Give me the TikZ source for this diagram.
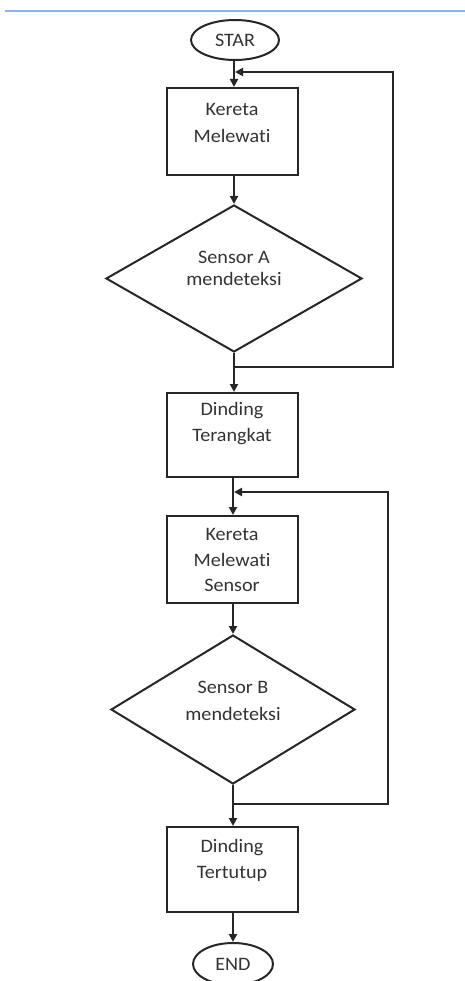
\documentclass[tikz,border=0pt]{standalone}
\usepackage{fontspec}
\setmainfont[Ligatures={NoCommon},FakeStretch=1.06]{Carlito}
\usetikzlibrary{shapes.geometric,arrows.meta}
\begin{document}
\begin{tikzpicture}[x=1pt,y=-1pt,
  ln/.style={line width=2pt, draw=black!85},
  arr/.style={ln,-{Triangle[length=8pt,width=8pt]}},
  boxnode/.style={ln, rectangle, inner sep=0pt, minimum width=131pt},
  dia/.style={ln, diamond, inner sep=0pt},
  term/.style={ln, ellipse, inner sep=0pt, text=black!80, font=\fontsize{19}{22}\selectfont},
  lbl/.style={align=center, text=black!80, inner sep=0pt}]
\useasboundingbox (0,0) rectangle (465,981);
\draw[line width=2pt, color={rgb,255:red,141;green,179;blue,226}] (5,11) -- (465,11);

% terminals
\node[term, minimum width=88pt, minimum height=40pt] (s) at (235,40) {STAR};
\node[term, minimum width=80pt, minimum height=42pt] (e) at (233,964) {END};

% boxes
\node[boxnode, minimum height=87pt] (b1) at (232,131.5) {};
\node[lbl, font=\fontsize{19}{27}\selectfont] (t1) at (232,122.5) {Kereta\\Melewati};
\node[boxnode, minimum height=84pt] (b2) at (232,435) {};
\node[lbl, font=\fontsize{19}{26}\selectfont] (t2) at (232,424) {Dinding\\Terangkat};
\node[boxnode, minimum height=87pt] (b3) at (232,559.5) {};
\node[lbl, font=\fontsize{19}{25.5}\selectfont] (t3) at (232,560) {Kereta\\Melewati\\Sensor};
\node[boxnode, minimum height=85pt] (b4) at (232,869.5) {};
\node[lbl, font=\fontsize{19}{26}\selectfont] (t4) at (232,860) {Dinding\\Tertutup};

% diamonds
\node[dia, minimum width=256pt, minimum height=147pt] (d1) at (234,278.5) {};
\node[lbl, font=\fontsize{19}{22}\selectfont] (td1) at (234,268) {Sensor A\\mendeteksi};
\node[dia, minimum width=244pt, minimum height=149pt] (d2) at (233,709.5) {};
\node[lbl, font=\fontsize{19}{27}\selectfont] (td2) at (233,700.5) {Sensor B\\mendeteksi};

% main flow
\draw[arr] (s.south -| 234,0) -- (b1.north -| 234,0);
\draw[arr] (b1.south -| 234,0) -- (d1.north);
\draw[arr] (d1.south) -- (b2.north -| d1.south);
\draw[arr] (b2.south -| 233,0) -- (b3.north -| 233,0);
\draw[arr] (b3.south -| 233,0) -- (d2.north);
\draw[arr] (d2.south) -- (b4.north -| d2.south);
\draw[arr] (b4.south -| 233,0) -- (e.north);

% feedback loops
\coordinate (j1) at (234,367);
\coordinate (r1) at (393,367);
\coordinate (r1t) at (393,72);
\coordinate (m1) at (235,72);
\draw[arr] (j1) -- (r1) -- (r1t) -- (m1);

\coordinate (j2) at (233,804);
\coordinate (r2) at (388,804);
\coordinate (r2t) at (388,492);
\coordinate (m2) at (234,492);
\draw[arr] (j2) -- (r2) -- (r2t) -- (m2);
\end{tikzpicture}
\end{document}
